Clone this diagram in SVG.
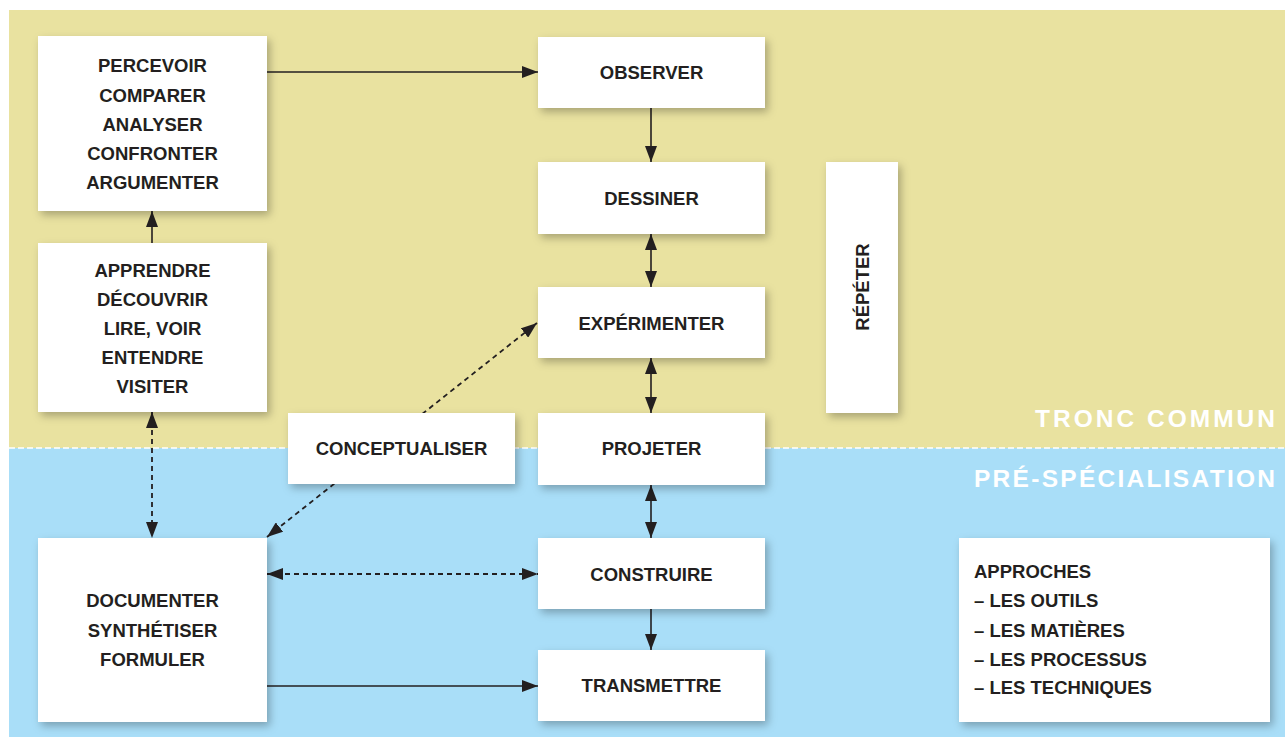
<svg xmlns="http://www.w3.org/2000/svg" width="1285" height="738" viewBox="0 0 1285 738">
  <defs>
    <filter id="shadow" x="-20%" y="-20%" width="150%" height="150%">
      <feDropShadow dx="3" dy="4" stdDeviation="4" flood-color="#000" flood-opacity="0.28"/>
    </filter>
    <marker id="arrow" markerUnits="userSpaceOnUse" markerWidth="16" markerHeight="12" refX="16" refY="6" orient="auto-start-reverse">
      <path d="M0,0 L16,6 L0,12 z" fill="#231f20"/>
    </marker>
  </defs>
  <style>
    .box { fill: #ffffff; filter: url(#shadow); }
    .lbl { font-family: "Liberation Sans", Arial, sans-serif; font-weight: bold; font-size: 18.5px; fill: #231f20; text-anchor: middle; }
    .lst { font-family: "Liberation Sans", Arial, sans-serif; font-weight: bold; font-size: 18.5px; fill: #231f20; }
    .zone { font-family: "Liberation Sans", Arial, sans-serif; font-weight: bold; font-size: 24.5px; fill: #ffffff; }
    .solid { stroke: #231f20; stroke-width: 1.6; fill: none; }
    .dash { stroke: #231f20; stroke-width: 1.8; fill: none; stroke-dasharray: 5 4; }
  </style>

  <!-- background zones -->
  <rect x="9" y="10" width="1276" height="438" fill="#e9e2a0"/>
  <rect x="9" y="448" width="1276" height="289" fill="#a9def8"/>
  <line x1="9" y1="448" x2="1285" y2="448" stroke="#ffffff" stroke-width="1.5" stroke-dasharray="6 3"/>
  <text class="zone" x="1035" y="427" textLength="240" lengthAdjust="spacing">TRONC COMMUN</text>
  <text class="zone" x="974" y="487" textLength="301" lengthAdjust="spacing">PRÉ-SPÉCIALISATION</text>

  <!-- connectors -->
  <g id="connectors">
    <line class="solid" x1="267" y1="72" x2="538" y2="72" marker-end="url(#arrow)"/>
    <line class="solid" x1="651" y1="108" x2="651" y2="162" marker-end="url(#arrow)"/>
    <line class="solid" x1="651" y1="234" x2="651" y2="287" marker-start="url(#arrow)" marker-end="url(#arrow)"/>
    <line class="solid" x1="651" y1="358" x2="651" y2="413" marker-start="url(#arrow)" marker-end="url(#arrow)"/>
    <line class="solid" x1="651" y1="485" x2="651" y2="538" marker-start="url(#arrow)" marker-end="url(#arrow)"/>
    <line class="solid" x1="651" y1="609" x2="651" y2="650" marker-end="url(#arrow)"/>
    <line class="solid" x1="152" y1="243" x2="152" y2="211" marker-end="url(#arrow)"/>
    <line class="dash" x1="152" y1="412" x2="152" y2="538" marker-start="url(#arrow)" marker-end="url(#arrow)"/>
    <line class="dash" x1="267" y1="574" x2="538" y2="574" marker-start="url(#arrow)" marker-end="url(#arrow)"/>
    <line class="solid" x1="267" y1="686" x2="538" y2="686" marker-end="url(#arrow)"/>
    <line class="dash" x1="267" y1="537" x2="537" y2="323" marker-start="url(#arrow)" marker-end="url(#arrow)"/>
  </g>

  <!-- nodes -->
  <g id="percevoir">
    <rect class="box" x="38" y="36" width="229" height="175"/>
    <text class="lbl" x="152.5" y="72">PERCEVOIR</text>
    <text class="lbl" x="152.5" y="101.5">COMPARER</text>
    <text class="lbl" x="152.5" y="131">ANALYSER</text>
    <text class="lbl" x="152.5" y="160">CONFRONTER</text>
    <text class="lbl" x="152.5" y="189">ARGUMENTER</text>
  </g>
  <g id="apprendre">
    <rect class="box" x="38" y="243" width="229" height="169"/>
    <text class="lbl" x="152.5" y="276.5">APPRENDRE</text>
    <text class="lbl" x="152.5" y="305.5">DÉCOUVRIR</text>
    <text class="lbl" x="152.5" y="334.5">LIRE, VOIR</text>
    <text class="lbl" x="152.5" y="363.5">ENTENDRE</text>
    <text class="lbl" x="152.5" y="392.5">VISITER</text>
  </g>
  <g id="documenter">
    <rect class="box" x="38" y="538" width="229" height="184"/>
    <text class="lbl" x="152.5" y="607">DOCUMENTER</text>
    <text class="lbl" x="152.5" y="637">SYNTHÉTISER</text>
    <text class="lbl" x="152.5" y="666">FORMULER</text>
  </g>
  <g id="conceptualiser">
    <rect class="box" x="288" y="413" width="227" height="71"/>
    <text class="lbl" x="401.5" y="455">CONCEPTUALISER</text>
  </g>
  <g id="observer">
    <rect class="box" x="538" y="37" width="227" height="71"/>
    <text class="lbl" x="651.5" y="79">OBSERVER</text>
  </g>
  <g id="dessiner">
    <rect class="box" x="538" y="162" width="227" height="72"/>
    <text class="lbl" x="651.5" y="205">DESSINER</text>
  </g>
  <g id="experimenter">
    <rect class="box" x="538" y="287" width="227" height="71"/>
    <text class="lbl" x="651.5" y="330">EXPÉRIMENTER</text>
  </g>
  <g id="projeter">
    <rect class="box" x="538" y="413" width="227" height="72"/>
    <text class="lbl" x="651.5" y="455">PROJETER</text>
  </g>
  <g id="construire">
    <rect class="box" x="538" y="538" width="227" height="71"/>
    <text class="lbl" x="651.5" y="581">CONSTRUIRE</text>
  </g>
  <g id="transmettre">
    <rect class="box" x="538" y="650" width="227" height="71"/>
    <text class="lbl" x="651.5" y="692">TRANSMETTRE</text>
  </g>
  <g id="repeter">
    <rect class="box" x="826" y="162" width="72" height="251"/>
    <text class="lbl" transform="translate(869,287) rotate(-90)" x="0" y="0">RÉPÉTER</text>
  </g>
  <g id="approches">
    <rect class="box" x="959" y="538" width="311" height="184"/>
    <text class="lst" x="974" y="578">APPROCHES</text>
    <text class="lst" x="974" y="607">– LES OUTILS</text>
    <text class="lst" x="974" y="637">– LES MATIÈRES</text>
    <text class="lst" x="974" y="666">– LES PROCESSUS</text>
    <text class="lst" x="974" y="694">– LES TECHNIQUES</text>
  </g>
</svg>
